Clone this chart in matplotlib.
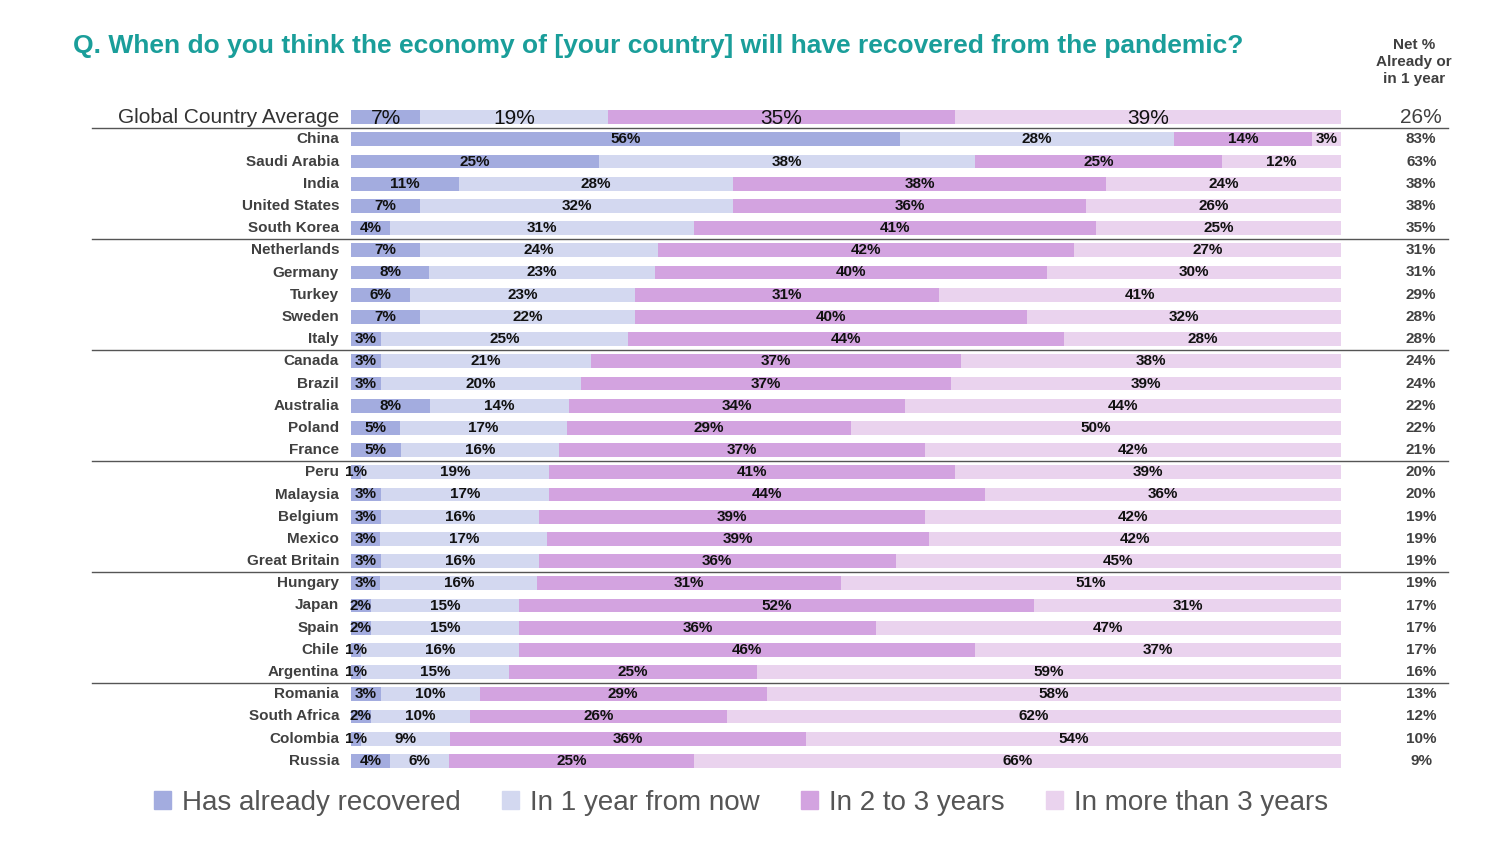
import matplotlib
matplotlib.use("Agg")
import matplotlib.pyplot as plt
from matplotlib.patches import Patch
plt.rcParams["font.family"] = "Liberation Sans"

countries = ["Global Country Average","China","Saudi Arabia","India","United States","South Korea",
"Netherlands","Germany","Turkey","Sweden","Italy","Canada","Brazil","Australia","Poland","France",
"Peru","Malaysia","Belgium","Mexico","Great Britain","Hungary","Japan","Spain","Chile","Argentina",
"Romania","South Africa","Colombia","Russia"]
already = [7,56,25,11,7,4,7,8,6,7,3,3,3,8,5,5,1,3,3,3,3,3,2,2,1,1,3,2,1,4]
one_year = [19,28,38,28,32,31,24,23,23,22,25,21,20,14,17,16,19,17,16,17,16,16,15,15,16,15,10,10,9,6]
two_three = [35,14,25,38,36,41,42,40,31,40,44,37,37,34,29,37,41,44,39,39,36,31,52,36,46,25,29,26,36,25]
more_three = [39,3,12,24,26,25,27,30,41,32,28,38,39,44,50,42,39,36,42,42,45,51,31,47,37,59,58,62,54,66]
net = [26,83,63,38,38,35,31,31,29,28,28,24,24,22,22,21,20,20,19,19,19,19,17,17,17,16,13,12,10,9]
series_names = ["Has already recovered","In 1 year from now","In 2 to 3 years","In more than 3 years"]
colors = ["#a3acdf","#d3d8f0","#d3a3e0","#ead3ee"]

W, H = 1498, 849
fig = plt.figure(figsize=(W/100, H/100), dpi=100)
ax = fig.add_axes([351/W, 1-772/H, 990/W, 666/H])
ax.set_xlim(0, 100); ax.set_ylim(29.5, -0.5); ax.axis("off")

data = [already, one_year, two_three, more_three]
for i in range(len(countries)):
    vals = [d[i] for d in data]
    tot = sum(vals)
    left = 0
    big = i == 0
    for v, c in zip(vals, colors):
        w = v * 100 / tot
        ax.barh(i, w, left=left, height=0.63, color=c, edgecolor="none")
        ax.text(left + w/2, i + (0.05 if big else 0), f"{v}%", ha="center", va="center",
                fontsize=15 if big else 11, fontweight="bold" if not big else "normal",
                color="#111111")
        left += w
    ax.text(-1.2, i, countries[i], ha="right", va="center", fontsize=15 if big else 11,
            fontweight="bold" if not big else "normal", color="#404040" if not big else "#333333")
    ax.text(108.1, i, f"{net[i]}%", ha="center", va="center", fontsize=15 if big else 11,
            fontweight="bold" if not big else "normal", color="#404040")

for yb in [0.5, 5.5, 10.5, 15.5, 20.5, 25.5]:
    ax.plot([-26.2, 110.8], [yb, yb], color="#555555", lw=1, clip_on=False)

fig.text(73/W, 1-46/H, "Q. When do you think the economy of [your country] will have recovered from the pandemic?",
         ha="left", va="center", fontsize=19, fontweight="bold", color="#1a9e9a")
fig.text(1414/W, 1-62/H, "Net %\nAlready or\nin 1 year", ha="center", va="center",
         fontsize=11, fontweight="bold", color="#404040", linespacing=1.3)

handles = [Patch(color=c, label=n) for c, n in zip(colors, series_names)]
fig.legend(handles=handles, loc="center", bbox_to_anchor=(741/W, 1-803/H), ncol=4, frameon=False,
           fontsize=20, handlelength=0.6, handleheight=0.6, handletextpad=0.4, columnspacing=1.5,
           labelcolor="#555555")
fig.savefig("out.png", dpi=100)
